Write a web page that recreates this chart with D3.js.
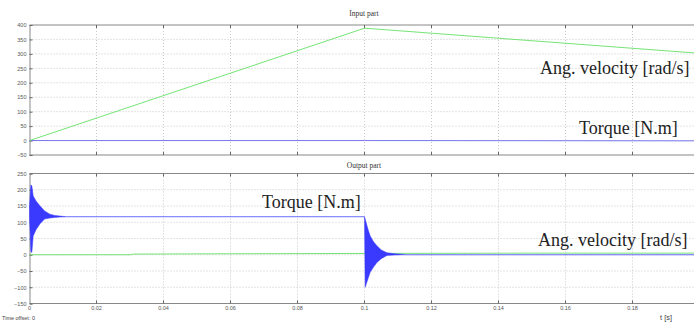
<!DOCTYPE html>
<html>
<head>
<meta charset="utf-8">
<script src="https://cdn.jsdelivr.net/npm/d3@7"></script>
<style>
body { margin: 0; background: #fff; }
svg { display: block; }
</style>
</head>
<body>
<script>
var w = 694;
var h = 322;

// time ticks (s)
var xTicks = [0, 0.02, 0.04, 0.06, 0.08, 0.1, 0.12, 0.14, 0.16, 0.18];
var inTicks = [-50, 0, 50, 100, 150, 200, 250, 300, 350, 400];
var outTicks = [-150, -100, -50, 0, 50, 100, 150, 200, 250];

// input part
var inVelT = [0, 0.1, 0.2];
var inVelV = [0, 389, 302];
var inTorqueT = [0, 0.1, 0.2];
var inTorqueV = [0, 0, -1];

// output part: torque envelope (dense oscillation) and steady parts
var outTorqueEnvT = [0, 0.0004, 0.0007, 0.0011, 0.002, 0.0031, 0.0045, 0.0061, 0.0075, 0.0091, 0.011];
var outTorqueHi = [150, 215, 212, 181, 165, 151, 135, 125, 121, 119, 117];
var outTorqueLo = [117, 10, 7, 58, 78, 95, 110, 113, 115, 116, 117];
var outTorqueEnvT2 = [0.1, 0.1002, 0.101, 0.1017, 0.1027, 0.1037, 0.105, 0.1067, 0.109, 0.112];
var outTorqueHi2 = [117, 110, 80, 58, 40, 28, 15, 6, 3, 1];
var outTorqueLo2 = [117, -100, -75, -54, -38, -24, -12, -2, -1, 0];
var outTorqueT1 = [0.011, 0.1];
var outTorqueV1 = [117, 117];
var outTorqueT2 = [0.112, 0.2];
var outTorqueV2 = [0, 0];
var outVelT = [0, 0.03, 0.031, 0.06, 0.1, 0.15, 0.2];
var outVelV = [0, 0, 2, 3, 4, 5, 5];

var green = '#66e066';
var blue = '#3a3aff';
var serif = "'Liberation Serif', 'Times New Roman', 'DejaVu Serif', serif";
var sans = "'Liberation Sans', Arial, sans-serif";

var svg = d3.select('body').append('svg').attr('width', w).attr('height', h);

var x = d3.scaleLinear().domain([0, 0.2]).range([29.5, 699.5]);

function panel(top, bottom, domain, ticks, title, titleY) {
  var y = d3.scaleLinear().domain(domain).range([bottom, top]);
  var g = svg.append('g');
  // grid
  g.selectAll('.gx').data(xTicks.slice(1)).enter().append('line')
    .attr('x1', function(d) { return x(d); }).attr('x2', function(d) { return x(d); })
    .attr('y1', top).attr('y2', bottom)
    .attr('stroke', '#bbb').attr('stroke-dasharray', '1,2').attr('stroke-width', 0.8);
  g.selectAll('.gy').data(ticks.slice(1, -1)).enter().append('line')
    .attr('x1', x(0)).attr('x2', w)
    .attr('y1', function(d) { return y(d); }).attr('y2', function(d) { return y(d); })
    .attr('stroke', '#bbb').attr('stroke-dasharray', '1,2').attr('stroke-width', 0.8);
  // frame
  g.append('line').attr('x1', x(0)).attr('x2', w).attr('y1', top).attr('y2', top).attr('stroke', '#888');
  g.append('line').attr('x1', x(0)).attr('x2', w).attr('y1', bottom).attr('y2', bottom).attr('stroke', '#888');
  // axes
  var ya = d3.axisLeft(y).tickValues(ticks).tickSize(-3).tickPadding(3);
  g.append('g').attr('transform', 'translate(' + x(0) + ',0)').call(ya)
    .call(function(s) {
      s.select('.domain').attr('stroke', '#888');
      s.selectAll('.tick line').attr('stroke', '#666');
      s.selectAll('text').attr('font-size', 5.5).attr('font-family', sans).attr('fill', '#555');
    });
  // x tick marks at top and bottom
  g.selectAll('.tb').data(xTicks.slice(1)).enter().append('line')
    .attr('x1', function(d) { return x(d); }).attr('x2', function(d) { return x(d); })
    .attr('y1', bottom).attr('y2', bottom - 3).attr('stroke', '#666');
  g.selectAll('.tt').data(xTicks.slice(1)).enter().append('line')
    .attr('x1', function(d) { return x(d); }).attr('x2', function(d) { return x(d); })
    .attr('y1', top).attr('y2', top + 3).attr('stroke', '#666');
  g.append('text').text(title).attr('x', 364).attr('y', titleY)
    .attr('text-anchor', 'middle').attr('font-family', serif)
    .attr('font-size', 7.5).attr('fill', '#333');
  return y;
}

var y1 = panel(25, 155, [-50, 400], inTicks, 'Input part', 16);
var y2 = panel(173.5, 303.5, [-150, 250], outTicks, 'Output part', 168);

function line(y) {
  return d3.line().x(function(d) { return x(d[0]); }).y(function(d) { return y(d[1]); });
}
function zip(a, b) { return a.map(function(d, i) { return [d, b[i]]; }); }

// input curves
svg.append('path').datum(zip(inTorqueT, inTorqueV)).attr('d', line(y1))
  .attr('fill', 'none').attr('stroke', '#6a6aee').attr('stroke-width', 0.9);
svg.append('path').datum(zip(inVelT, inVelV)).attr('d', line(y1))
  .attr('fill', 'none').attr('stroke', green).attr('stroke-width', 0.9);

// output curves
var area = d3.area().x(function(d) { return x(d.t); })
  .y0(function(d) { return y2(d.lo); }).y1(function(d) { return y2(d.hi); });
var env1 = outTorqueEnvT.map(function(t, i) { return {t: t, hi: outTorqueHi[i], lo: outTorqueLo[i]}; });
var env2 = outTorqueEnvT2.map(function(t, i) { return {t: t, hi: outTorqueHi2[i], lo: outTorqueLo2[i]}; });
svg.append('path').datum(zip(outVelT, outVelV)).attr('d', line(y2))
  .attr('fill', 'none').attr('stroke', green).attr('stroke-width', 0.9);
[env1, env2].forEach(function(e) {
  svg.append('path').datum(e).attr('d', area)
    .attr('fill', blue).attr('stroke', blue).attr('stroke-width', 0.5);
});
[zip(outTorqueT1, outTorqueV1), zip(outTorqueT2, outTorqueV2)].forEach(function(seg) {
  svg.append('path').datum(seg).attr('d', line(y2))
    .attr('fill', 'none').attr('stroke', '#5a5aff').attr('stroke-width', 0.9);
});

// x tick labels
svg.selectAll('.xl').data(xTicks).enter().append('text')
  .text(function(d) { return d; })
  .attr('x', function(d) { return x(d); }).attr('y', 310)
  .attr('text-anchor', 'middle').attr('font-size', 5.5)
  .attr('font-family', sans).attr('fill', '#555');

svg.append('text').text('Time offset:  0').attr('x', 2).attr('y', 320)
  .attr('font-size', 5.5).attr('font-family', sans).attr('fill', '#444');
svg.append('text').text('t [s]').attr('x', 660).attr('y', 320)
  .attr('font-size', 7.5).attr('font-family', sans).attr('fill', '#444');

// annotations
var notes = [
  {s: 'Ang. velocity [rad/s]', x: 540, y: 74},
  {s: 'Torque [N.m]', x: 579, y: 134},
  {s: 'Torque [N.m]', x: 262, y: 208},
  {s: 'Ang. velocity [rad/s]', x: 538, y: 246}
];
svg.selectAll('.note').data(notes).enter().append('text')
  .text(function(d) { return d.s; })
  .attr('x', function(d) { return d.x; }).attr('y', function(d) { return d.y; })
  .attr('font-family', serif).attr('font-size', 18).attr('fill', '#222');
</script>
</body>
</html>
